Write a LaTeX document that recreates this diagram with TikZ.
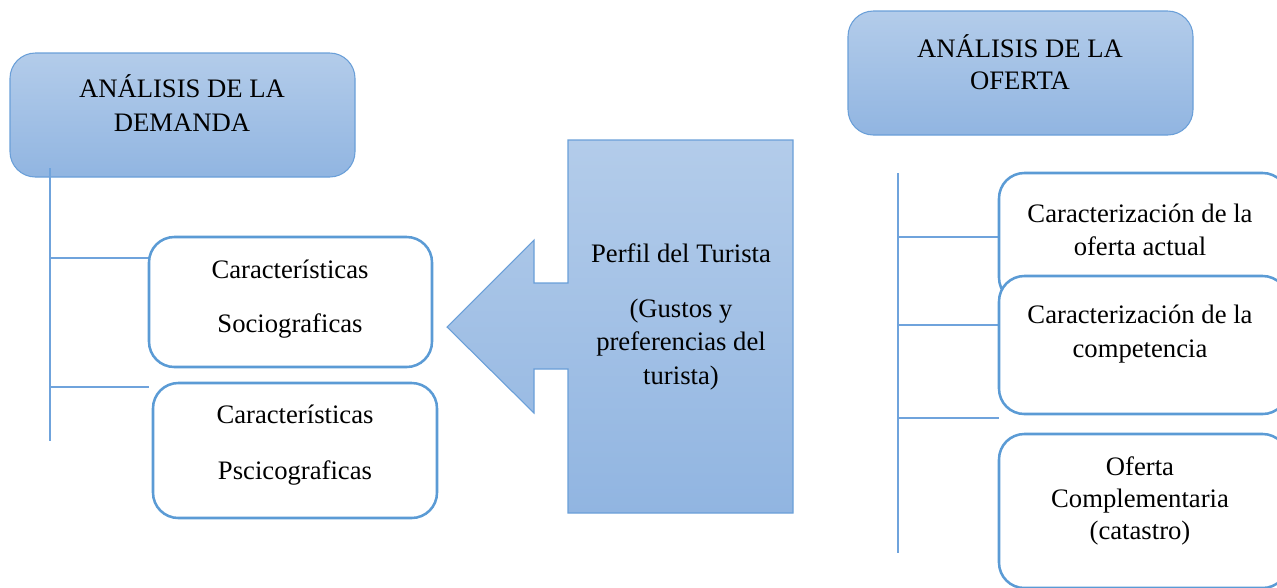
\documentclass[tikz,border=0pt]{standalone}
\usepackage{fontspec}
\setmainfont{Liberation Serif}
\definecolor{hdrtop}{HTML}{B3CCEA}
\definecolor{hdrbot}{HTML}{91B5E1}
\definecolor{hdrline}{HTML}{6A9FD8}
\definecolor{boxline}{HTML}{5B9BD5}
\definecolor{connline}{HTML}{6FA3DC}
\begin{document}
\begin{tikzpicture}[x=0.75pt,y=-0.75pt,
  hdr/.style={draw=hdrline, line width=0.8pt, top color=hdrtop, bottom color=hdrbot, rounded corners=19pt, inner sep=0pt},
  rbox/.style={draw=boxline, line width=1.9pt, fill=white, rounded corners=19pt, inner sep=0pt},
  conn/.style={draw=connline, line width=0.8pt},
  txt/.style={align=center, inner sep=0pt, text=black}]
\useasboundingbox (0,0) rectangle (1277,587);
\clip (0,0) rectangle (1277,587);

% left header
\node[hdr, minimum width=258.75pt, minimum height=93pt] (dem) at (182.5,115) {};
\node[txt, font=\fontsize{20}{25.5}\selectfont] (demt) at (182,103) {ANÁLISIS DE LA\\DEMANDA};

% right header
\node[hdr, minimum width=258.75pt, minimum height=93pt] (ofe) at (1020.5,73) {};
\node[txt, font=\fontsize{20}{24}\selectfont] (ofet) at (1020,62) {ANÁLISIS DE LA\\OFERTA};

% left connectors
\coordinate (lt) at (50,168);
\coordinate (lb) at (50,441);
\coordinate (l1) at (50,258);
\coordinate (l2) at (50,387);
\coordinate (l1e) at (149,258);
\coordinate (l2e) at (149,387);
\draw[conn] (lt) -- (lb);
\draw[conn] (l1) -- (l1e);
\draw[conn] (l2) -- (l2e);

% left boxes
\node[rbox, minimum width=212.25pt, minimum height=97.5pt] (soc) at (290.5,302) {};
\node[txt, font=\fontsize{20}{40.5}\selectfont] (soct) at (290,299) {Características\\Sociograficas};
\node[rbox, minimum width=213pt, minimum height=101.25pt] (psi) at (295,450.5) {};
\node[txt, font=\fontsize{20}{42}\selectfont] (psit) at (295,445) {Características\\Pscicograficas};

% arrow
\path[draw=hdrline, line width=0.8pt, top color=hdrtop, bottom color=hdrbot]
  (568,140) -- (793,140) -- (793,513) -- (568,513) -- (568,369) -- (534,369)
  -- (534,413) -- (447,327) -- (534,240) -- (534,283) -- (568,283) -- cycle;
\node[txt, font=\fontsize{20}{25}\selectfont] (perf) at (681,317)
  {Perfil del Turista\\[16pt](Gustos y\\preferencias del\\turista)};

% right connectors
\coordinate (rt) at (898,173);
\coordinate (rb) at (898,553);
\coordinate (r1) at (898,237);
\coordinate (r2) at (898,325);
\coordinate (r3) at (898,418);
\coordinate (r1e) at (999,237);
\coordinate (r2e) at (999,325);
\coordinate (r3e) at (999,418);
\draw[conn] (rt) -- (rb);
\draw[conn] (r1) -- (r1e);
\draw[conn] (r2) -- (r2e);
\draw[conn] (r3) -- (r3e);

% right boxes
\node[rbox, minimum width=216.75pt, minimum height=97.5pt] (ca) at (1143.5,238) {};
\node[rbox, minimum width=216.75pt, minimum height=103.5pt] (cc) at (1143.5,345) {};
\node[rbox, minimum width=216.75pt, minimum height=115.5pt] (oc) at (1143.5,511) {};
\node[txt, font=\fontsize{20}{24.75}\selectfont] (cat) at (1140,229.5) {Caracterización de la\\oferta actual};
\node[txt, font=\fontsize{20}{25.5}\selectfont] (cct) at (1140,334) {Caracterización de la\\competencia};
\node[txt, font=\fontsize{20}{24}\selectfont] (oct) at (1140,501) {Oferta\\Complementaria\\(catastro)};
\end{tikzpicture}
\end{document}
